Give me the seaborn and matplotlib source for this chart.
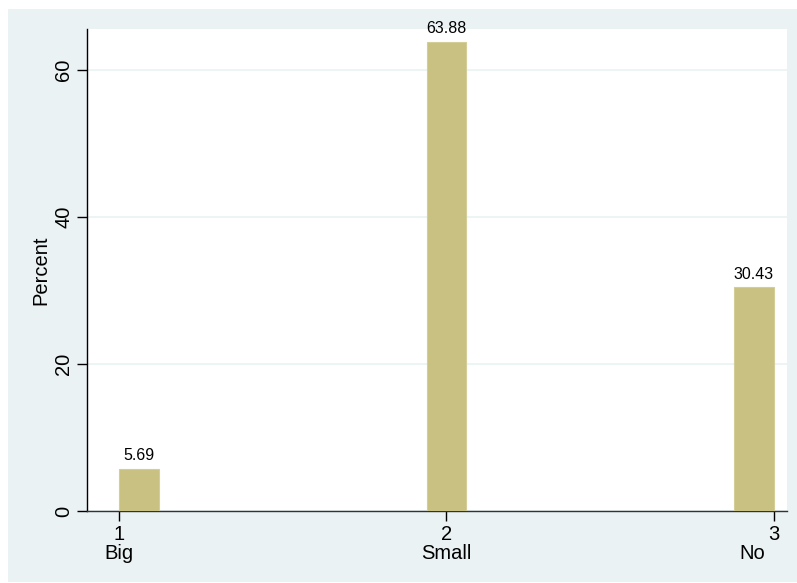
import numpy as np
import pandas as pd
import matplotlib
matplotlib.use('Agg')
import matplotlib.pyplot as plt
from matplotlib.patches import Rectangle
import seaborn as sns

# data
codes = [1, 2, 3]
names = ['Big', 'Small', 'No']
percent = [5.69, 63.88, 30.43]

bg = '#EAF2F3'
bar_col = '#C9C181'

sns.set_style('white')
plt.rcParams['font.family'] = ['Liberation Sans', 'DejaVu Sans']
plt.rcParams['text.color'] = 'black'
plt.rcParams['axes.labelcolor'] = 'black'
plt.rcParams['xtick.color'] = 'black'
plt.rcParams['ytick.color'] = 'black'

df = pd.DataFrame({'code': codes, 'name': names, 'percent': percent})

W, H = 797, 583
fig = plt.figure(figsize=(W / 100, H / 100), dpi=100, facecolor='white')
# light graph region with thin white margin at top/left
fig.patches.append(Rectangle((8 / W, 1 / H), (W - 8) / W, (582 - 9) / H,
                             transform=fig.transFigure, facecolor=bg,
                             edgecolor='none', zorder=-1))
ax = fig.add_axes([87 / W, (H - 511) / H, 700 / W, (511 - 29) / H])
ax.set_facecolor('white')

# stata-style discrete bars: thin bars pulled in toward the middle of the range
w = 0.122
mid = np.mean(codes)
centers = [c + (mid - c) * (w / 2) / (mid - codes[0]) for c in codes]
ax.bar(centers, df['percent'], width=w, color=bar_col, edgecolor='#D4CD97',
       linewidth=0.8, zorder=3)

for cx, p in zip(centers, percent):
    ax.text(cx, p + 0.8, f'{p:.2f}', ha='center', va='bottom', fontsize=11.5)

ax.set_xlim(0.902, 3.04)
ax.set_ylim(0, 65.6)
ax.set_yticks([0, 20, 40, 60])
ax.set_xticks(codes)
ax.set_xticklabels([str(c) for c in codes], fontsize=14.5)
for lab in ax.get_yticklabels():
    lab.set_rotation(90)
    lab.set_va('center')
    lab.set_fontsize(14.5)
ax.set_ylabel('Percent', fontsize=14.5, labelpad=3)

# value-label line under the codes; last one kept inside the graph
for i, (c, n) in enumerate(zip(codes, names)):
    last = i == len(codes) - 1
    ax.annotate(n, xy=(c, 0), xycoords=('data', 'axes fraction'),
                xytext=(-6 if last else 0, -30.5), textcoords='offset points',
                ha='right' if last else 'center', va='center', fontsize=14.5)

ax.yaxis.grid(True, color=bg, linewidth=1.2, zorder=0)
ax.tick_params(axis='both', direction='out', length=7, width=1, color='black',
               left=True, bottom=True, pad=3)
sns.despine(ax=ax, top=True, right=True)
ax.spines['left'].set_color('black')
ax.spines['bottom'].set_color('#333333')
ax.spines['left'].set_linewidth(1)
ax.spines['bottom'].set_linewidth(1)

fig.savefig('out.png', dpi=100, facecolor='white')
